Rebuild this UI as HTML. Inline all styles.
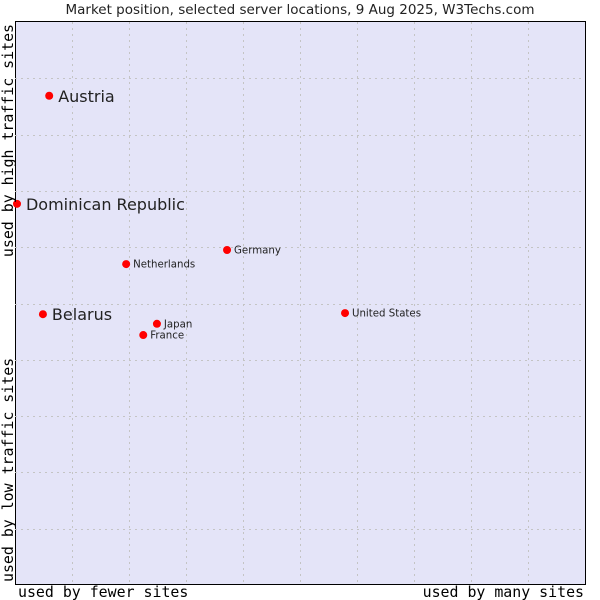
<!DOCTYPE html>
<html><head><meta charset="utf-8"><style>
html,body{margin:0;padding:0;background:#fff;width:600px;height:600px;overflow:hidden}
svg text{font-family:"DejaVu Sans","Liberation Sans",sans-serif;fill:#222}
.mono{font-family:"DejaVu Sans Mono","Liberation Mono",monospace;fill:#000}
</style></head><body>
<svg id="chart" width="600" height="600">
<text x="300" y="14" text-anchor="middle" font-size="13.5">Market position, selected server locations, 9 Aug 2025, W3Techs.com</text>
<rect x="15.5" y="21.5" width="570" height="563" fill="#e4e4f8" stroke="#000" stroke-width="1"/>
<g id="grid"></g>
<g id="points"></g>
<text class="mono" x="18" y="597" font-size="14.9">used by fewer sites</text>
<text class="mono" x="584" y="597" font-size="14.9" text-anchor="end">used by many sites</text>
<text class="mono" transform="translate(13,24) rotate(-90)" font-size="14.9" text-anchor="end">used by high traffic sites</text>
<text class="mono" transform="translate(13,582) rotate(-90)" font-size="14.9">used by low traffic sites</text>
</svg>
<script>
const names=["Austria","Dominican Republic","Germany","Netherlands","Belarus","United States","Japan","France"];
const xValues=[6.0,0.35,37.2,19.5,4.9,57.9,24.9,22.5];
const yValues=[86.9,67.7,59.5,57.0,48.1,48.3,46.4,44.4];
const bigLabel=[true,true,false,false,true,false,false,false];
const gridTicks=[10,20,30,40,50,60,70,80,90];
const NS="http://www.w3.org/2000/svg";
const L=15,R=585,T=22,B=585;
function sx(v){return L+v/100*(R-L);}
function sy(v){return B-v/100*(B-T);}
const grid=document.getElementById('grid');
gridTicks.forEach(t=>{
  const v=document.createElementNS(NS,'line');
  
  
  v.setAttribute('x1',Math.round(sx(t))+0.5);v.setAttribute('x2',Math.round(sx(t))+0.5);
  v.setAttribute('y1',T);v.setAttribute('y2',B);
  v.setAttribute('stroke','#c4c4c4');v.setAttribute('stroke-dasharray','2,4');
  grid.appendChild(v);
  const h=document.createElementNS(NS,'line');
  
  
  h.setAttribute('y1',Math.round(sy(t))+0.5);h.setAttribute('y2',Math.round(sy(t))+0.5);
  h.setAttribute('x1',L);h.setAttribute('x2',R);
  h.setAttribute('stroke','#c4c4c4');h.setAttribute('stroke-dasharray','2,4');
  grid.appendChild(h);
});
const pts=document.getElementById('points');
names.forEach((n,i)=>{
  const x=sx(xValues[i]),y=sy(yValues[i]);
  const c=document.createElementNS(NS,'circle');
  
  
  c.setAttribute('cx',x);c.setAttribute('cy',y);c.setAttribute('r',4);c.setAttribute('fill','#f00');
  pts.appendChild(c);
  const t=document.createElementNS(NS,'text');
  
  
  const big=bigLabel[i];
  t.setAttribute('x',x+(big?9:7));t.setAttribute('y',y+(big?6:3.5));
  t.setAttribute('font-size',big?16:10.2);
  t.textContent=n;
  pts.appendChild(t);
});
</script>
</body></html>
